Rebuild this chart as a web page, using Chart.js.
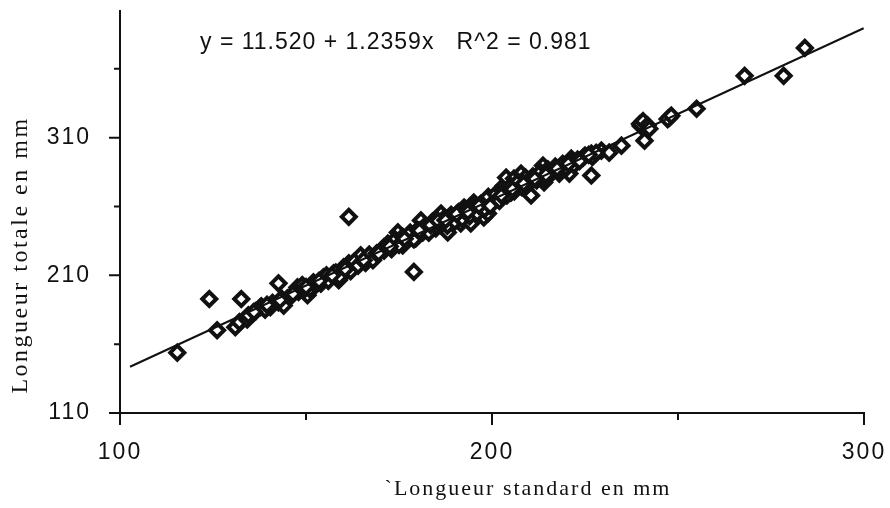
<!DOCTYPE html>
<html>
<head>
<meta charset="utf-8">
<script src="https://cdn.jsdelivr.net/npm/chart.js@4/dist/chart.umd.min.js"></script>
<style>
  html, body { margin: 0; padding: 0; background: #fff; }
  canvas { display: block; }
</style>
</head>
<body>
<canvas id="chart" width="890" height="508"></canvas>
<script>
// values (mm)
const standardLength = [
    115.4, 124.0, 126.1, 132.6, 131.0, 132.1, 134.2, 135.8, 137.7, 139.6,
    140.4, 142.6, 142.6, 145.0, 147.7, 150.4, 149.3, 152.6, 154.7, 157.4,
    158.8, 160.1, 161.5, 161.5, 161.2, 164.7, 167.9, 170.9, 174.7, 176.0,
    178.2, 179.5, 180.9, 181.4, 184.9, 186.3, 188.1, 189.8, 191.6, 192.5,
    194.3, 195.1, 196.2, 197.8, 198.9, 198.9, 201.6, 203.2, 203.8, 205.9,
    205.1, 179.0, 207.8, 210.5, 213.7, 214.0, 218.1, 220.8, 221.3, 224.5,
    226.7, 226.7, 229.4, 231.5, 234.8, 241.0, 241.5, 240.0, 247.7, 255.0,
    267.9, 278.4, 284.1,
    134.5, 136.5, 138.0, 139.0, 141.0, 143.5, 144.0, 146.0, 148.0, 149.0,
    151.0, 152.0, 154.0, 155.5, 156.0, 158.0, 159.0, 161.0, 162.0, 163.0,
    164.0, 166.0, 167.0, 168.0, 169.0, 171.0, 172.0, 173.0, 174.0, 175.0,
    176.0, 177.0, 178.0, 179.0, 180.0, 182.0, 183.0, 184.0, 186.0, 187.0,
    188.0, 189.0, 190.0, 191.0, 192.0, 193.0, 194.0, 195.0, 196.0, 197.0,
    198.0, 199.0, 200.0, 201.0, 202.0, 203.0, 204.0, 205.0, 206.0, 207.0,
    208.0, 209.0, 210.0, 211.0, 212.0, 213.0, 214.0, 215.0, 216.0, 217.0,
    218.0, 219.0, 220.0, 221.0, 222.0, 223.0, 225.0, 227.0, 228.0,
    239.8, 240.6, 241.8, 242.3, 247.2, 248.2,
    136.0, 139.5, 143.0, 146.5, 150.0, 153.5, 157.0, 160.5, 165.5, 169.5,
    172.5, 176.5, 180.5, 183.5, 185.5, 187.5, 190.5, 193.5, 196.5, 199.5,
    202.5, 205.5, 208.5, 211.5, 214.5, 217.5, 220.5, 223.5, 226.0
];
const totalLength = [
    153.8, 192.8, 170.1, 192.8, 172.3, 176.0, 178.0, 182.5, 186.8, 188.3,
    186.8, 204.2, 190.4, 193.3, 201.3, 195.5, 199.0, 202.8, 208.6, 211.4,
    206.4, 215.8, 218.7, 252.5, 213.6, 224.5, 222.3, 230.3, 241.2, 231.7,
    237.5, 236.8, 249.9, 241.2, 244.0, 254.9, 241.2, 252.0, 247.7, 259.3,
    247.7, 262.9, 257.1, 252.0, 264.3, 254.9, 266.5, 275.2, 281.0, 280.3,
    270.1, 212.5, 283.9, 268.0, 289.7, 277.4, 283.9, 283.9, 294.8, 295.5,
    298.4, 282.5, 300.6, 299.1, 304.2, 307.8, 317.2, 318.5, 324.5, 331.0,
    354.9, 354.9, 375.2,
    181.0, 184.0, 187.5, 185.0, 190.0, 193.0, 188.0, 195.0, 198.0, 203.0,
    200.0, 205.0, 204.0, 210.0, 206.0, 212.0, 209.0, 216.0, 213.0, 220.0,
    217.0, 219.0, 225.0, 221.0, 226.0, 228.0, 233.0, 229.0, 236.0, 232.0,
    238.0, 235.0, 241.0, 236.0, 243.0, 246.0, 241.0, 249.0, 247.0, 251.0,
    246.0, 254.0, 249.0, 256.0, 251.0, 258.0, 253.0, 260.0, 255.0, 262.0,
    258.0, 267.0, 262.0, 269.0, 264.0, 271.0, 268.0, 275.0, 271.0, 278.0,
    274.0, 281.0, 277.0, 282.0, 279.0, 285.0, 281.0, 287.0, 284.0, 289.0,
    286.0, 291.0, 288.0, 293.0, 290.0, 294.0, 297.0, 296.0, 299.0,
    320.0, 322.0, 319.0, 316.5, 323.5, 326.0,
    183.5, 188.5, 192.0, 196.5, 201.5, 206.0, 210.0, 214.5, 221.0, 226.0,
    231.0, 236.5, 242.5, 246.5, 249.5, 250.0, 254.5, 256.0, 260.5, 260.5,
    268.0, 272.5, 276.5, 280.0, 283.0, 287.5, 291.0, 293.0, 297.5
];
// fitted line y = 11.520 + 1.2359x, ends as drawn in the picture
const fitX = [102.7, 299.9];
const fitY = [143.6, 389.5];

const xTicks = [100, 150, 200, 250, 300];
const yTicks = [110, 160, 210, 260, 310, 360];
const xTickLabels = ["100", "200", "300"];
const yTickLabels = ["110", "210", "310"];

const equationText = "y = 11.520 + 1.2359x   R^2 = 0.981";
const xTitle = "`Longueur standard en mm";
const yTitle = "Longueur totale en mm";

const ink = "#111";

const decor = {
    id: "decor",
    beforeDraw(chart) {
        chart.ctx.letterSpacing = "2px";
    },
    beforeDatasetsDraw(chart) {
        chart.ctx.letterSpacing = "0px";
    },
    afterDraw(chart) {
        const { ctx, scales: { x, y } } = chart;
        ctx.save();
        ctx.strokeStyle = ink;
        ctx.lineWidth = 2;
        ctx.beginPath();
        xTicks.forEach(v => {
            const px = x.getPixelForValue(v);
            const len = v % 100 === 0 ? 12 : 7;
            ctx.moveTo(px, y.bottom);
            ctx.lineTo(px, y.bottom + len);
        });
        yTicks.forEach(v => {
            const py = y.getPixelForValue(v);
            const len = (v - 110) % 100 === 0 ? 11 : 6;
            ctx.moveTo(x.left, py);
            ctx.lineTo(x.left - len, py);
        });
        ctx.stroke();

        ctx.fillStyle = ink;
        ctx.textBaseline = "middle";

        ctx.letterSpacing = "1px";
        ctx.font = "23px 'Liberation Sans', Arial, sans-serif";
        ctx.textAlign = "left";
        ctx.fillText(equationText, 200, 43);

        ctx.letterSpacing = "2px";
        ctx.font = "22px 'Liberation Serif', 'Times New Roman', serif";
        ctx.textAlign = "center";
        ctx.fillText(xTitle, 528, 489);

        ctx.letterSpacing = "2.5px";
        ctx.font = "24px 'Liberation Serif', 'Times New Roman', serif";
        ctx.translate(21, 255);
        ctx.rotate(-Math.PI / 2);
        ctx.fillText(yTitle, 0, 0);
        ctx.restore();
    }
};

function noPadding(scale) {
    scale.paddingLeft = 0;
    scale.paddingRight = 0;
    scale.paddingTop = 0;
    scale.paddingBottom = 0;
}

const points = standardLength.map((v, i) => ({ x: v, y: totalLength[i] }));
const fit = fitX.map((v, i) => ({ x: v, y: fitY[i] }));

new Chart(document.getElementById("chart"), {
    type: "scatter",
    data: {
        datasets: [{
            label: "Régression",
            data: fit,
            showLine: true,
            borderColor: ink,
            borderWidth: 2,
            pointRadius: 0,
            order: 0
        }, {
            label: "Mesures",
            data: points,
            pointStyle: "rectRot",
            pointRadius: 7,
            pointBorderWidth: 4,
            pointBorderColor: ink,
            pointBackgroundColor: "#fff",
            order: 1
        }]
    },
    options: {
        responsive: false,
        devicePixelRatio: 1,
        animation: false,
        layout: {
            padding: { top: 10, right: 26, left: 0, bottom: 0 }
        },
        scales: {
            x: {
                type: "linear",
                min: 100,
                max: 300,
                afterBuildTicks: scale => {
                    scale.ticks = xTicks.map(v => ({ value: v }));
                },
                afterFit: scale => {
                    scale.height = 95;
                    noPadding(scale);
                },
                grid: { display: false },
                border: { display: true, color: ink, width: 2 },
                ticks: {
                    padding: 18,
                    color: ink,
                    font: { family: "'Liberation Sans', Arial, sans-serif", size: 23 },
                    callback: v => xTickLabels.includes(String(v)) ? String(v) : ""
                }
            },
            y: {
                type: "linear",
                min: 110,
                max: 402,
                afterBuildTicks: scale => {
                    scale.ticks = yTicks.map(v => ({ value: v }));
                },
                afterFit: scale => {
                    scale.width = 120;
                    noPadding(scale);
                },
                grid: { display: false },
                border: { display: true, color: ink, width: 2 },
                ticks: {
                    padding: 21,
                    color: ink,
                    font: { family: "'Liberation Sans', Arial, sans-serif", size: 23 },
                    callback: v => yTickLabels.includes(String(v)) ? String(v) : ""
                }
            }
        },
        plugins: {
            legend: { display: false },
            tooltip: { enabled: false }
        }
    },
    plugins: [decor]
});
</script>
</body>
</html>
